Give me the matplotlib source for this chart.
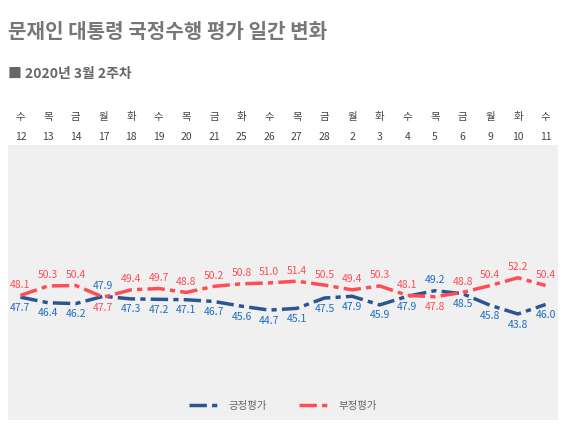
import matplotlib
matplotlib.use("Agg")
import matplotlib.pyplot as plt
import matplotlib.transforms as mtransforms

plt.rcParams['font.family'] = ['Noto Sans CJK KR', 'DejaVu Sans']

days = ['수','목','금','월','화','수','목','금','화','수','목','금','월','화','수','목','금','월','화','수']
dates = ['12','13','14','17','18','19','20','21','25','26','27','28','2','3','4','5','6','9','10','11']
positive = [47.7,46.4,46.2,47.9,47.3,47.2,47.1,46.7,45.6,44.7,45.1,47.5,47.9,45.9,47.9,49.2,48.5,45.8,43.8,46.0]
negative = [48.1,50.3,50.4,47.7,49.4,49.7,48.8,50.2,50.8,51.0,51.4,50.5,49.4,50.3,48.1,47.8,48.8,50.4,52.2,50.4]

blue = '#2b5592'
red = '#ff4d55'

fig = plt.figure(figsize=(5.66, 4.44), dpi=100)
ax = fig.add_axes([8/566, 1-420/444, 550/566, 275/444])
ax.set_facecolor('#f0f0f0')
for s in ax.spines.values():
    s.set_visible(False)
ax.set_xticks([]); ax.set_yticks([])
x = list(range(len(days)))
ax.plot(x, positive, color=blue, lw=2.5, ls=(0, (5, 1.5, 1.5, 1.5)), label='긍정평가')
ax.plot(x, negative, color=red, lw=2.5, ls=(0, (5, 1.5, 1.5, 1.5)), label='부정평가')
ax.set_xlim(-0.45, 19.45)
ax.set_ylim(19.2, 83.0)

for i in x:
    p, n = positive[i], negative[i]
    pu = p > n
    ax.annotate(f'{p:.1f}', (i, p), xytext=(0, 4 if pu else -4), textcoords='offset points',
                ha='center', va='bottom' if pu else 'top', color='#1e6fc0', fontsize=7.5)
    ax.annotate(f'{n:.1f}', (i, n), xytext=(0, -4 if pu else 4), textcoords='offset points',
                ha='center', va='top' if pu else 'bottom', color=red, fontsize=7.5)

trans = mtransforms.blended_transform_factory(ax.transData, fig.transFigure)
for i in x:
    fig.text(i, 1-117/444, days[i], transform=trans, ha='center', va='center', fontsize=7.5, color='#444444')
    fig.text(i, 1-137/444, dates[i], transform=trans, ha='center', va='center', fontsize=7.5, color='#444444')

leg = ax.legend(loc='lower center', bbox_to_anchor=(0.5, 0.0), ncol=2, frameon=False, fontsize=7.5,
                handlelength=3, columnspacing=3)
for t in leg.get_texts():
    t.set_color('#666666')

fig.text(8/566, 1-32/444, '문재인 대통령 국정수행 평가 일간 변화', fontsize=14.5, fontweight='bold',
         color='#777777', va='center')
fig.text(8/566, 1-74/444, '■ 2020년 3월 2주차', fontsize=10, fontweight='bold', color='#666666', va='center')

fig.savefig('out.png', dpi=100, facecolor='white')
